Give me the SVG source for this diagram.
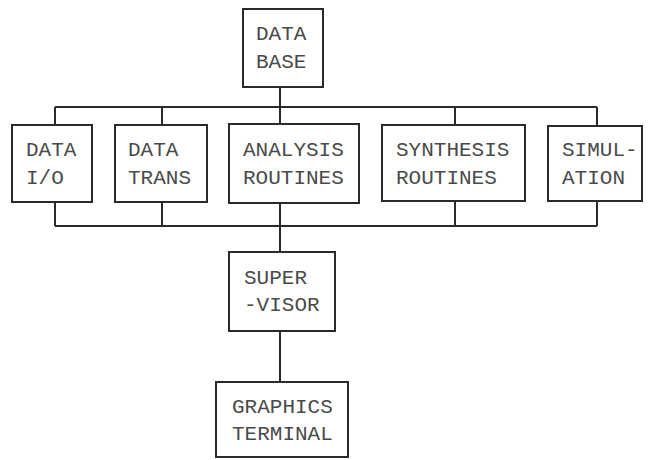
<svg xmlns="http://www.w3.org/2000/svg" width="652" height="460" viewBox="0 0 652 460">
<style>
.box{fill:#fff;stroke:#2b2b2b;stroke-width:2}
.con{fill:none;stroke:#2b2b2b;stroke-width:2}
.t{font-family:"Liberation Mono","DejaVu Sans Mono",monospace;font-size:21px;fill:#4a4a4a}
</style>
<rect width="652" height="460" fill="#fff"/>
<g id="connectors" class="con">
<path d="M280 87V107M55 107H597M55 107V125M162 107V125M280 107V124M455 107V125M597 107V126"/>
<path d="M55 202V226M162 202V226M280 203V226M455 201V226M597 201V226M55 226H597"/>
<path d="M280 226V252M280 331V382"/>
</g>
<g id="database"><rect class="box" x="243" y="9" width="80" height="78"/><text class="t" x="256" y="40">DATA</text><text class="t" x="256" y="68">BASE</text></g>
<g id="dataio"><rect class="box" x="12" y="125" width="80" height="77"/><text class="t" x="26" y="156">DATA</text><text class="t" x="26" y="184">I/O</text></g>
<g id="datatrans"><rect class="box" x="115" y="125" width="92" height="77"/><text class="t" x="128" y="156">DATA</text><text class="t" x="128" y="184">TRANS</text></g>
<g id="analysis"><rect class="box" x="229" y="124" width="130" height="79"/><text class="t" x="243" y="156">ANALYSIS</text><text class="t" x="243" y="184">ROUTINES</text></g>
<g id="synthesis"><rect class="box" x="382" y="125" width="143" height="76"/><text class="t" x="396" y="156">SYNTHESIS</text><text class="t" x="396" y="184">ROUTINES</text></g>
<g id="simulation"><rect class="box" x="548" y="126" width="94" height="75"/><text class="t" x="562" y="156">SIMUL-</text><text class="t" x="562" y="184">ATION</text></g>
<g id="supervisor"><rect class="box" x="229" y="252" width="106" height="79"/><text class="t" x="244" y="284">SUPER</text><text class="t" x="244" y="311">-VISOR</text></g>
<g id="graphics"><rect class="box" x="216" y="382" width="132" height="75"/><text class="t" x="232" y="413">GRAPHICS</text><text class="t" x="232" y="440">TERMINAL</text></g>
</svg>
